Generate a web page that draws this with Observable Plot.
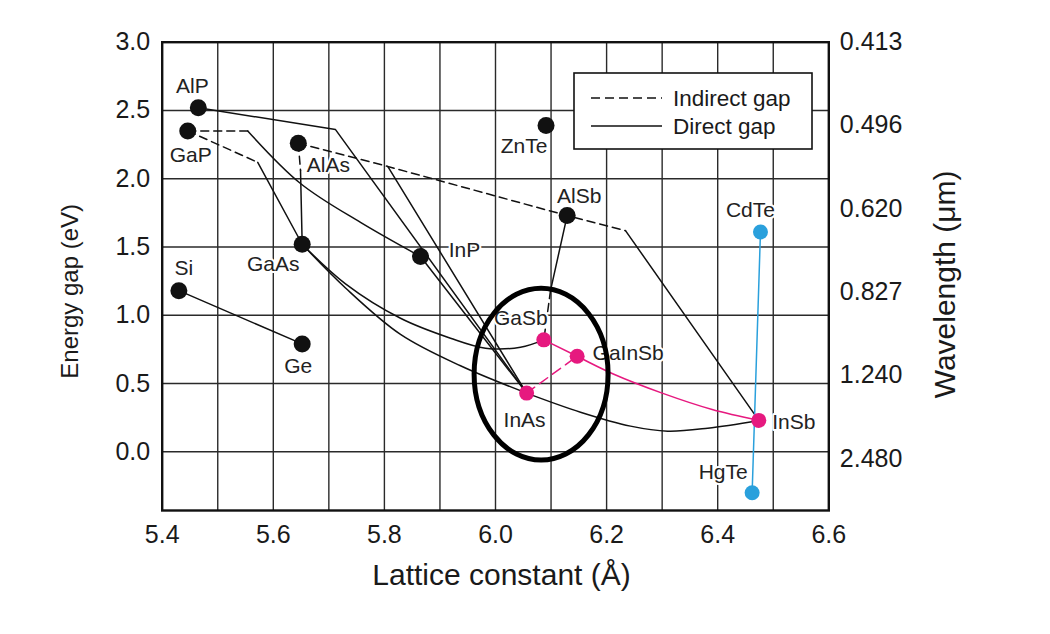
<!DOCTYPE html>
<html><head><meta charset="utf-8">
<script src="https://cdn.jsdelivr.net/npm/d3@7"></script>
<script src="https://cdn.jsdelivr.net/npm/@observablehq/plot@0.6"></script>
<style>
body{margin:0;background:#fff;font-family:"Liberation Sans",Arial,sans-serif;}
#wrap{position:relative;width:1050px;height:634px;overflow:hidden;}
#legend{position:absolute;left:573px;top:72px;}
</style></head><body><div id="wrap"></div>
<script>
// ---- data ----
const compounds       = ["AlP","GaP","AlAs","ZnTe","AlSb","CdTe","InP","GaAs","Si","Ge","GaSb","GaInSb","InAs","InSb","HgTe"];
const latticeConstant = [5.465,5.446,5.645,6.091,6.129,6.477,5.865,5.652,5.430,5.652,6.087,6.147,6.056,6.474,6.462];
const energyGap       = [2.52, 2.35, 2.26, 2.39, 1.73, 1.61, 1.43, 1.52, 1.18, 0.79, 0.82, 0.70, 0.43, 0.23, -0.30];
const materialGroup   = ["base","base","base","base","base","HgCdTe","base","base","base","base","GaInSb","GaInSb","GaInSb","GaInSb","HgCdTe"];

// connecting curves: lists of [lattice constant, energy gap] waypoints
const indirectPaths = [
  [[5.446,2.35],[5.554,2.35]],                                  // GaP -> GaInP
  [[5.446,2.35],[5.572,2.12]],                                  // GaP -> GaAs
  [[5.645,2.26],[5.649,2.06]],                                  // AlAs -> GaAs
  [[5.645,2.26],[5.806,2.09],[6.129,1.73],[6.234,1.62]],        // AlAs -> AlSb -> InSb
  [[6.099,1.18],[6.087,0.82]]                                   // AlSb -> GaSb (lower)
];
const directPaths = [
  [[5.465,2.52],[5.712,2.36],[6.056,0.43]],                     // AlP -> InAs
  [[5.572,2.12],[5.652,1.52]],                                  // GaP -> GaAs
  [[5.649,2.06],[5.652,1.52]],                                  // AlAs -> GaAs
  [[5.806,2.09],[6.056,0.43]],                                  // AlAs -> InAs
  [[5.865,1.43],[6.056,0.43]],                                  // InP -> InAs
  [[6.129,1.73],[6.099,1.18]],                                  // AlSb -> GaSb
  [[6.234,1.62],[6.474,0.23]],                                  // AlSb -> InSb
  [[5.430,1.18],[5.652,0.79]]                                   // Si -> Ge
];
const directCurves = [
  [[5.554,2.35],[5.649,1.965],[5.757,1.68],[5.865,1.43]],                                   // GaP -> InP
  [[5.652,1.52],[5.730,1.20],[5.829,0.86],[5.937,0.63],[6.056,0.43]],                      // GaAs -> InAs
  [[5.652,1.52],[5.730,1.23],[5.829,0.978],[5.919,0.832],[5.982,0.759],[6.045,0.766],[6.087,0.82]], // GaAs -> GaSb
  [[6.056,0.43],[6.153,0.29],[6.243,0.188],[6.310,0.151],[6.382,0.173],[6.474,0.23]]       // InAs -> InSb
];
const gaInSbDirect   = [[[6.087,0.82],[6.147,0.70]]];
const gaInSbCurve    = [[[6.147,0.70],[6.212,0.57],[6.300,0.43],[6.390,0.31],[6.474,0.23]]];
const gaInSbIndirect = [[[6.056,0.43],[6.147,0.70]]];
const hgCdTePath     = [[[6.477,1.61],[6.462,-0.30]]];

// axes
const xTicks = [5.4,5.6,5.8,6.0,6.2,6.4,6.6];
const xGrid  = [5.5,5.6,5.7,5.8,5.9,6.0,6.1,6.2,6.3,6.4,6.5];
const yTicks = [0.0,0.5,1.0,1.5,2.0,2.5,3.0];
const yGrid  = [0.0,0.5,1.0,1.5,2.0,2.5];
const wavelengthLabels = ["0.413","0.496","0.620","0.827","1.240","2.480"];
const wavelengthTickAt = [3.0, 2.39, 1.78, 1.17, 0.56, -0.05];
const legendLabels = ["Indirect gap","Direct gap"];
const xTitle = "Lattice constant (Å)", yTitle = "Energy gap (eV)", y2Title = "Wavelength (μm)";
// annotation ellipse (center and radii in data units)
const ellipseCenter = [6.083, 0.565], ellipseRadii = [0.1206, 0.629];

// ---- layout / styles ----
const labelDx = [-6, 3, 30,-22, 12,-10, 44,-29,  5, -4,-23, 51, -2, 35,-29];
const labelDy = [-21,24, 22, 21,-19,-22, -6, 20,-22, 22,-22, -3, 27,  2,-20];
const colorOf = {base:"#111", GaInSb:"#e6197f", HgCdTe:"#2aa0dc"};
const FONT = "Liberation Sans, Arial, sans-serif";

const toRows = (paths) => paths.flatMap((p, i) => p.map(([x, y]) => ({x, y, path: i})));
const idx = compounds.map((_, i) => i);
const wlMap = new Map(wavelengthTickAt.map((v, i) => [v, wavelengthLabels[i]]));

const lineOpts = (extra) => Object.assign({x:"x", y:"y", z:"path", strokeWidth:1.5}, extra);

const plot = Plot.plot({
  width:1050, height:634,
  marginLeft:161.7, marginRight:221.7, marginTop:41.7, marginBottom:124,
  x:{domain:[5.4,6.6]}, y:{domain:[-0.43,3.0]},
  style:{fontFamily:FONT, background:"white", color:"#1a1a1a"},
  marks:[
    Plot.ruleX(xGrid, {stroke:"#2a2a2a", strokeWidth:1.4}),
    Plot.ruleY(yGrid, {stroke:"#2a2a2a", strokeWidth:1.4}),
    Plot.frame({stroke:"#111", strokeWidth:2.4}),
    Plot.axisX({ticks:xTicks, tickFormat:".1f", tickSize:0, tickPadding:15, fontSize:25, label:null}),
    Plot.axisY({ticks:yTicks, tickFormat:".1f", tickSize:0, tickPadding:12, fontSize:25, label:null}),
    Plot.axisY({anchor:"right", ticks:wavelengthTickAt, tickFormat:d => wlMap.get(d), tickSize:0, tickPadding:11, fontSize:25, label:null}),
    Plot.line(toRows(indirectPaths), lineOpts({stroke:"#111", strokeDasharray:"8,5"})),
    Plot.line(toRows(directPaths), lineOpts({stroke:"#111"})),
    Plot.line(toRows(directCurves), lineOpts({stroke:"#111", curve:"catmull-rom"})),
    Plot.line(toRows(gaInSbDirect), lineOpts({stroke:colorOf.GaInSb})),
    Plot.line(toRows(gaInSbCurve), lineOpts({stroke:colorOf.GaInSb, curve:"catmull-rom"})),
    Plot.line(toRows(gaInSbIndirect), lineOpts({stroke:colorOf.GaInSb, strokeDasharray:"10,6"})),
    Plot.line(toRows(hgCdTePath), lineOpts({stroke:colorOf.HgCdTe})),
    Plot.dot(idx.filter(i => materialGroup[i] === "base"), {x:i => latticeConstant[i], y:i => energyGap[i], r:8.5, fill:colorOf.base}),
    Plot.dot(idx.filter(i => materialGroup[i] !== "base"), {x:i => latticeConstant[i], y:i => energyGap[i], r:7.5, fill:i => colorOf[materialGroup[i]]}),
    ...idx.map(i => Plot.text([i], {x:i => latticeConstant[i], y:i => energyGap[i], text:i => compounds[i],
      dx:labelDx[i], dy:labelDy[i], fontSize:21, fill:"#222", stroke:"white", strokeWidth:4})),
    Plot.text([xTitle], {frameAnchor:"bottom", textAnchor:"middle", dx:6, dy:74, fontSize:30, fill:"#1a1a1a"}),
    Plot.text([yTitle], {frameAnchor:"left", textAnchor:"middle", dx:-92, dy:15, rotate:-90, fontSize:24, fill:"#1a1a1a"}),
    Plot.text([y2Title], {frameAnchor:"right", textAnchor:"middle", dx:117, dy:8, rotate:-90, fontSize:30, fill:"#1a1a1a"})
  ]
});

// annotation ellipse, positioned through the plot's scales
const sx = plot.scale("x"), sy = plot.scale("y");
const cx = sx.apply(ellipseCenter[0]), cy = sy.apply(ellipseCenter[1]);
d3.select(plot).append("ellipse")
  .attr("cx", cx).attr("cy", cy)
  .attr("rx", Math.abs(sx.apply(ellipseCenter[0] + ellipseRadii[0]) - cx))
  .attr("ry", Math.abs(sy.apply(ellipseCenter[1] + ellipseRadii[1]) - cy))
  .attr("fill", "none").attr("stroke", "#000").attr("stroke-width", 5);

const wrap = document.getElementById("wrap");
wrap.appendChild(plot);

// legend (overlaid box)
const lg = d3.select(wrap).append("svg").attr("id", "legend").attr("width", 242).attr("height", 80);
lg.append("rect").attr("x", 1).attr("y", 1).attr("width", 238).attr("height", 76)
  .attr("fill", "white").attr("stroke", "#111").attr("stroke-width", 1.6);
legendLabels.forEach((t, i) => {
  const yy = 26 + i * 28;
  lg.append("line").attr("x1", 18).attr("x2", 89).attr("y1", yy).attr("y2", yy)
    .attr("stroke", "#111").attr("stroke-width", 1.6).attr("stroke-dasharray", i === 0 ? "9,5" : null);
  lg.append("text").attr("x", 100).attr("y", yy + 8).attr("font-family", FONT).attr("font-size", 22.5)
    .attr("fill", "#1a1a1a").text(t);
});
</script></body></html>
